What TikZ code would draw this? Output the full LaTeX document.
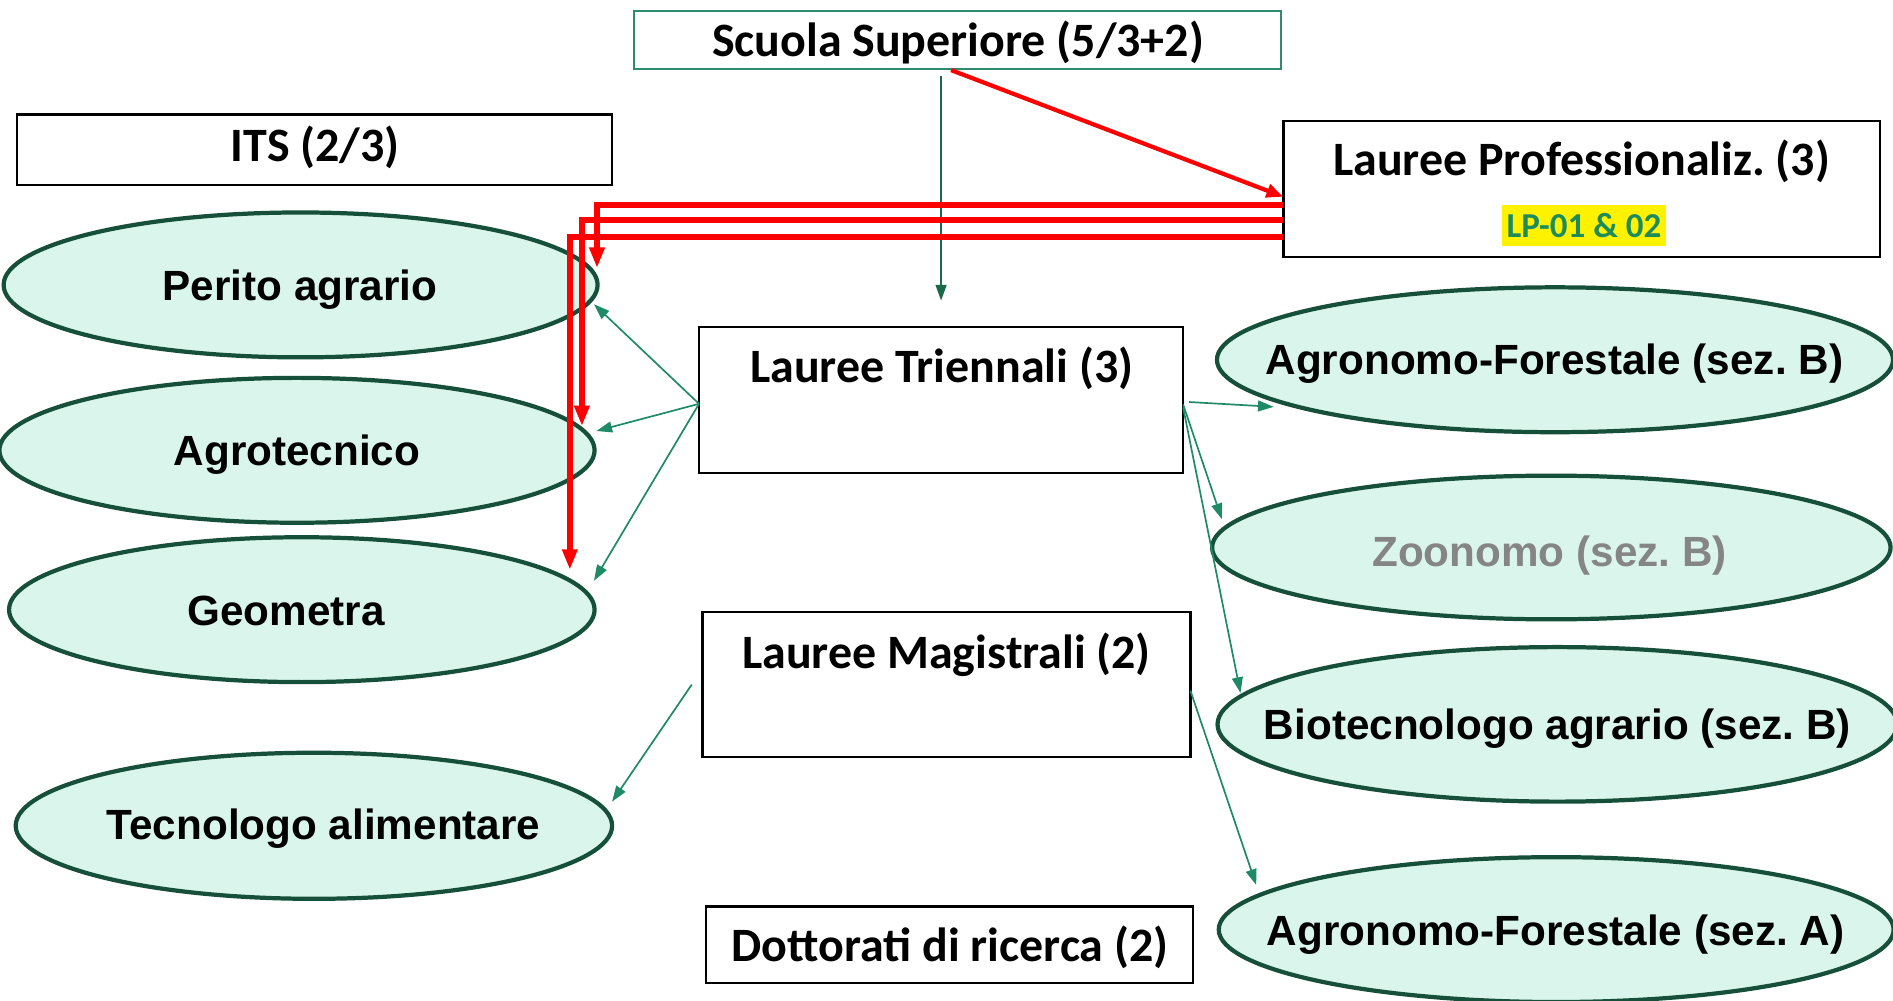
\documentclass[tikz,border=0pt]{standalone}
\usepackage{fontspec}
\setmainfont{Carlito}
\newfontfamily\arialf{Liberation Sans}
\usetikzlibrary{shapes.geometric,arrows.meta}
\definecolor{mint}{HTML}{DAF6EC}
\definecolor{elledge}{HTML}{17503A}
\definecolor{scuolaline}{HTML}{2E8B6E}
\definecolor{garr}{HTML}{1E8A66}
\definecolor{varr}{HTML}{1A6A4A}
\definecolor{lpgreen}{HTML}{1E8C5A}
\definecolor{zoogray}{HTML}{858585}
\frenchspacing
\tikzset{
  ell/.style={ellipse, draw=elledge, fill=mint, line width=3.5pt, inner sep=0pt, outer sep=0pt},
  etext/.style={inner sep=0pt, anchor=base, font=\frenchspacing\arialf\bfseries\fontsize{35}{42}\selectfont},
  boxn/.style={draw=black, line width=2pt, inner sep=0pt, outer sep=0pt},
  btext/.style={inner sep=0pt, anchor=base, font=\frenchspacing\bfseries\fontsize{39.7}{47}\selectfont},
  garrow/.style={draw=garr, line width=1.4pt, -{Triangle[length=13pt,width=9pt]}},
  varrow/.style={draw=varr, line width=1.4pt, -{Triangle[length=13pt,width=9pt]}},
  rarrow/.style={draw=red, line width=5pt, -{Triangle[length=17pt,width=12pt]}}
}
\begin{document}
\begin{tikzpicture}[x=1pt,y=-1pt]
\useasboundingbox (0,0) rectangle (1568,829);
% ellipses
\node[ell, minimum width=492pt, minimum height=120pt] (perito) at (249,236) {};
\node[ell, minimum width=493pt, minimum height=120pt] (agro) at (246,373) {};
\node[ell, minimum width=485pt, minimum height=120pt] (geom) at (250,505) {};
\node[ell, minimum width=494pt, minimum height=121pt] (tecno) at (260,684) {};
\node[ell, minimum width=560pt, minimum height=120pt] (afb) at (1288,298) {};
\node[ell, minimum width=562pt, minimum height=119pt] (zoo) at (1285,453.5) {};
\node[ell, minimum width=563pt, minimum height=128pt] (bio) at (1290,600) {};
\node[ell, minimum width=559pt, minimum height=120pt] (afa) at (1289,770) {};
\node[etext] (perito-t) at (248.5,248.5) {Perito agrario};
\node[etext] (agro-t) at (246,385.5) {Agrotecnico};
\node[etext] (geom-t) at (237,518) {Geometra};
\node[etext] (tecno-t) at (268,695.5) {Tecnologo alimentare};
\node[etext] (afb-t) at (1287.5,310.5) {Agronomo-Forestale (sez. B)};
\node[etext, text=zoogray] (zoo-t) at (1283.5,469) {Zoonomo (sez. B)};
\node[etext] (bio-t) at (1290,612.5) {Biotecnologo agrario (sez. B)};
\node[etext] (afa-t) at (1288.5,783.5) {Agronomo-Forestale (sez. A)};
% boxes
\node[boxn, draw=scuolaline, minimum width=536pt, minimum height=48pt] (scuola) at (793,33) {};
\node[boxn, minimum width=493pt, minimum height=58pt] (its) at (260.5,124) {};
\node[boxn, minimum width=494pt, minimum height=113pt] (prof) at (1310,156.5) {};
\node[boxn, minimum width=401pt, minimum height=121pt] (tri) at (779.5,331.5) {};
\node[boxn, minimum width=404pt, minimum height=120pt] (mag) at (784,567) {};
\node[boxn, minimum width=403pt, minimum height=63pt] (dott) at (786.5,782.5) {};
\node[btext] (scuola-t) at (793.5,46.7) {Scuola Superiore (5/3+2)};
\node[btext] (its-t) at (261,133.7) {ITS (2/3)};
\node[btext] (prof-t) at (1310,145.7) {Lauree Professionaliz. (3)};
\node[fill=yellow, text=lpgreen, inner sep=0pt, minimum width=136pt, minimum height=34pt, font=\bfseries\fontsize{29}{35}\selectfont] (lp) at (1312,187) {LP-01 \& 02};
\node[btext] (tri-t) at (780,316.7) {Lauree Triennali (3)};
\node[btext] (mag-t) at (784,553.7) {Lauree Magistrali (2)};
\node[btext] (dott-t) at (787,796.7) {Dottorati di ricerca (2)};
% green connectors
\draw[varrow, shorten <=6pt, shorten >=22pt] (scuola.south -| tri.north) -- (tri.north);
\draw[garrow] ([yshift=-3pt]tri.west) -- ([xshift=-3pt,yshift=-16pt]perito.east);
\draw[garrow] ([yshift=-3pt]tri.west) -- ([xshift=1.5pt,yshift=16pt]agro.east);
\draw[garrow] ([yshift=-3pt]tri.west) -- ([xshift=-0.5pt,yshift=24pt]geom.east);
\draw[garrow] ([xshift=5pt,yshift=-1.5pt]tri.east) -- ([xshift=47pt,yshift=-39pt]afb.west);
\draw[garrow] ([yshift=-3.5pt]tri.east) -- ([xshift=8pt,yshift=23.5pt]zoo.west);
\draw[garrow] ([yshift=-6pt]tri.east) -- ([xshift=19pt,yshift=26pt]bio.west);
\draw[garrow] ([yshift=-5pt]mag.east) -- ([xshift=31pt,yshift=37pt]afa.west);
\draw[garrow] ([xshift=-9pt]mag.west) -- ([yshift=20pt]tecno.east);
% red connectors
\draw[rarrow, line width=3.5pt, -{Triangle[length=14pt,width=11pt]}, shorten <=3pt] ([xshift=-8pt]scuola.south) -- ([yshift=-6.5pt]prof.west);
\draw[rarrow] ([yshift=-13.5pt]prof.west) -| ([xshift=-0.5pt,yshift=14pt]perito.east);
\draw[rarrow] ([yshift=-25.5pt]prof.west) -| ([xshift=-10.5pt,yshift=20pt]agro.east);
\draw[rarrow] ([yshift=-39.5pt]prof.west) -| ([xshift=-20.5pt,yshift=33pt]geom.east);
\end{tikzpicture}
\end{document}
